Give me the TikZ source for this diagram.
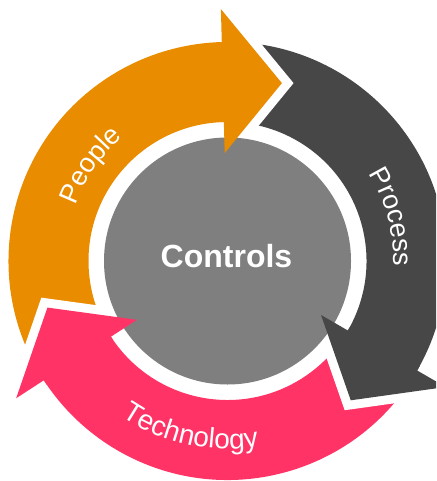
\documentclass[tikz,border=0pt]{standalone}
\usepackage{fontspec}
\setmainfont{Liberation Sans}
\usetikzlibrary{decorations.text}

\definecolor{peoplecol}{RGB}{233,140,0}
\definecolor{processcol}{RGB}{71,71,71}
\definecolor{techcol}{RGB}{255,51,102}
\definecolor{corecol}{RGB}{127,127,127}

% ring geometry (1 unit = 1pt)
\def\rin{139}    % inner radius of the ring
\def\rout{219}   % outer radius of the ring
\def\bin{108}    % inner barb radius
\def\bout{252}   % outer barb radius
\def\rtip{186}   % radius of the arrow tip
\def\tipoff{18.5}% angular length of an arrow head

% ring segment from angle #2 to angle #3
\newcommand{\cycbody}[3]{%
  \fill[#1] (#2:\rout) arc[start angle=#2, end angle=#3, radius=\rout]
    -- (#3:\rin) arc[start angle=#3, end angle=#2, radius=\rin] -- cycle;}
% white cut along the two slanted edges of a head with base angle #1
\newcommand{\cycgap}[1]{%
  \pgfmathsetmacro{\tipang}{#1-\tipoff}%
  \draw[gapline] (#1:\bout) -- (\tipang:\rtip) -- (#1:\bin);}
% arrow head with base angle #2
\newcommand{\cychead}[2]{%
  \pgfmathsetmacro{\tipang}{#2-\tipoff}%
  \fill[#1] (#2:\rout) -- (#2:\bout) -- (\tipang:\rtip) -- (#2:\bin)
    -- (#2:\rin) -- cycle;}

\begin{document}
\begin{tikzpicture}[x=1pt,y=1pt,
  gapline/.style={draw=white, line width=18pt, line join=miter,
    miter limit=20, line cap=butt},
  ringlabel/.style 2 args={decorate, decoration={text along path,
    text align=center, text color=white,
    text={|\fontsize{#1pt}{#1pt}\selectfont|#2}}}]
\useasboundingbox (0,0) rectangle (436,-481);
\clip (0,0) rectangle (436,-481);
\begin{scope}[shift={(227.5,-261)}]
  % ring segments, each tail running under the previous head
  \cycbody{peoplecol}{213}{91}
  \cycbody{processcol}{91.5}{-30.5}
  \cycbody{techcol}{-30}{-147.5}
  % own colour under each head base, so the joins stay clean
  \cycbody{peoplecol}{93}{89}
  \cycbody{processcol}{-28.5}{-32.5}
  \cycbody{techcol}{-145.5}{-149.5}
  % white gaps in front of each head
  \cycgap{91.5}
  \cycgap{-30}
  \cycgap{-147}
  % central disc
  \fill[corecol] (0,0) circle[radius=123.5];
  % arrow heads
  \cychead{peoplecol}{91.5}
  \cychead{processcol}{-30}
  \cychead{techcol}{-147}
  % labels along the ring
  \path[ringlabel={27}{People}] (185:162) arc[start angle=185, end angle=105, radius=162];
  \path[ringlabel={27}{Process}] (55:166) arc[start angle=55, end angle=-25, radius=166];
  \path[ringlabel={28}{Technology}] (217.6:188) arc[start angle=217.6, end angle=297.6, radius=188];
  \node[text=white, font=\bfseries\fontsize{32pt}{32pt}\selectfont] (core) at (-1,4.5) {Controls};
\end{scope}
\end{tikzpicture}
\end{document}
